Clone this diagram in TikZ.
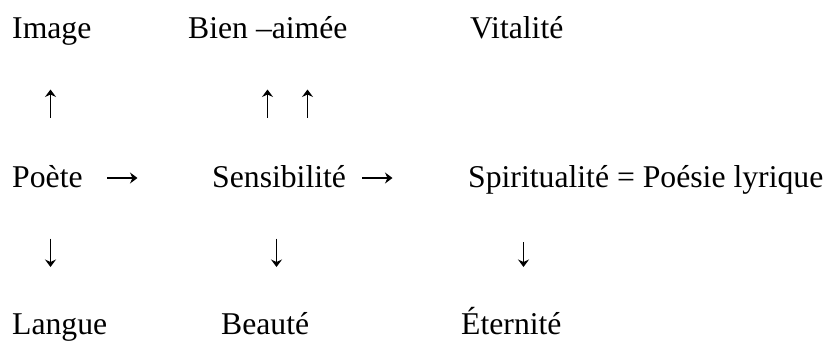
\documentclass[tikz,border=0pt]{standalone}
\usepackage{fontspec}
\setmainfont{Liberation Serif}
\usetikzlibrary{arrows.meta}
\begin{document}
\begin{tikzpicture}[x=1pt,y=-1pt,
  word/.style={anchor=base west,inner sep=0pt,font=\fontsize{31.7}{36}\selectfont},
  arr/.style={line width=1.5pt,-{Stealth[length=7.5pt,width=11pt,inset=2.5pt]}}]
\useasboundingbox (0,0) rectangle (826,340);
% row 1
\node[word] (image) at (12,38) {Image};
\node[word] (bien) at (188,38) {Bien –aimée};
\node[word] (vital) at (470,38) {Vitalité};
% row 3
\node[word] (poete) at (12,187) {Poète};
\node[word] (sens) at (212,187) {Sensibilité};
\node[word] (spir) at (468,187) {Spiritualité = Poésie lyrique};
% row 5
\node[word] (langue) at (12,334) {Langue};
\node[word] (beaute) at (221,334) {Beauté};
\node[word] (etern) at (461,334) {Éternité};
% arrow end points
\coordinate (u1a) at (50.5,117.5); \coordinate (u1b) at (50.5,89.5);
\coordinate (u2a) at (267.5,117.5); \coordinate (u2b) at (267.5,89.5);
\coordinate (u3a) at (307.5,117.5); \coordinate (u3b) at (307.5,89.5);
\coordinate (r1a) at (107,178); \coordinate (r1b) at (137.5,178);
\coordinate (r2a) at (362,178); \coordinate (r2b) at (392.5,178);
\coordinate (d1a) at (50.5,238.5); \coordinate (d1b) at (50.5,267);
\coordinate (d2a) at (276.5,238.5); \coordinate (d2b) at (276.5,267);
\coordinate (d3a) at (523.5,242); \coordinate (d3b) at (523.5,267);
% arrows
\draw[arr] (u1a) -- (u1b);
\draw[arr] (u2a) -- (u2b);
\draw[arr] (u3a) -- (u3b);
\draw[arr] (r1a) -- (r1b);
\draw[arr] (r2a) -- (r2b);
\draw[arr] (d1a) -- (d1b);
\draw[arr] (d2a) -- (d2b);
\draw[arr] (d3a) -- (d3b);
\end{tikzpicture}
\end{document}
